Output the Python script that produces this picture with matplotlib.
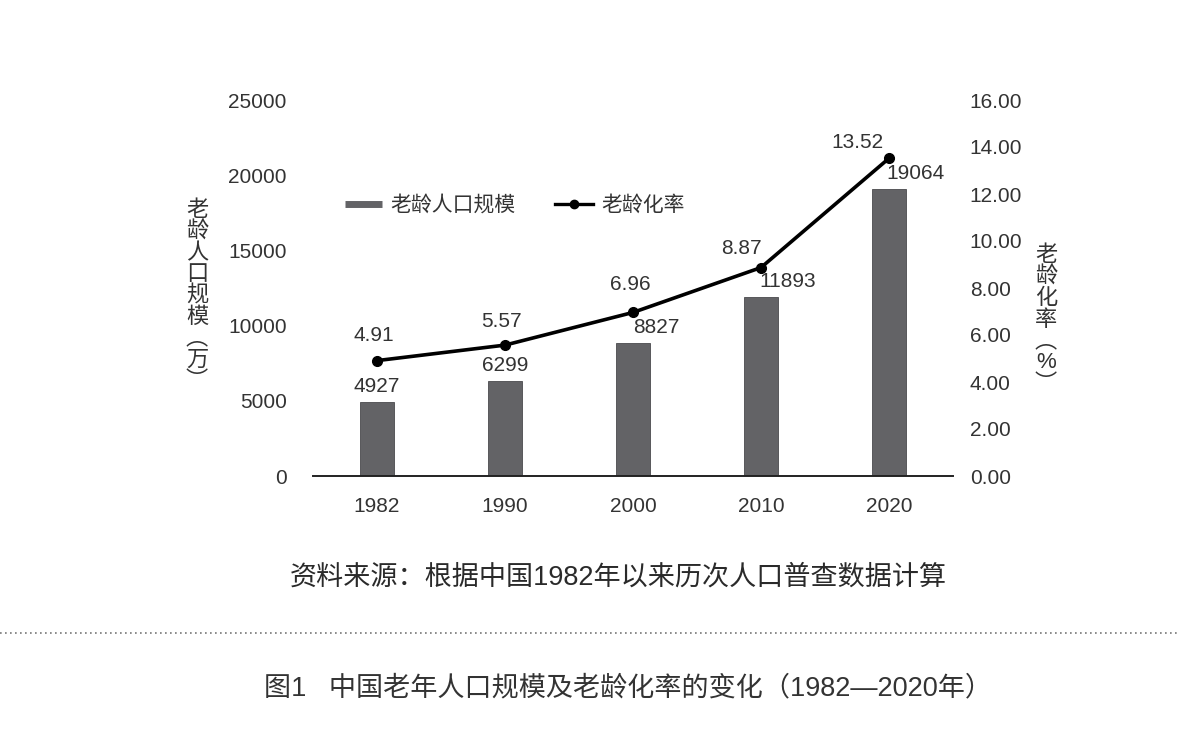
import matplotlib.pyplot as plt
from matplotlib.lines import Line2D

plt.rcParams['font.family'] = ['Liberation Sans', 'Noto Sans CJK SC', 'DejaVu Sans']

# data
years = ['1982', '1990', '2000', '2010', '2020']
elderly_pop = [4927, 6299, 8827, 11893, 19064]      # 万
aging_rate = [4.91, 5.57, 6.96, 8.87, 13.52]         # %
left_ticks = [0, 5000, 10000, 15000, 20000, 25000]
right_ticks = [0, 2, 4, 6, 8, 10, 12, 14, 16]

bar_name = '老龄人口规模'
line_name = '老龄化率'
left_label = '老龄人口规模︵万︶'
right_label = '老龄化率︵%︶'
source_note = '资料来源：根据中国1982年以来历次人口普查数据计算'
caption = '图1   中国老年人口规模及老龄化率的变化（1982—2020年）'

# label offsets in pixels (dx, dy)
bar_lbl_off = [(0, 6), (0, 6), (23, 6), (27, 6), (26, 6)]
line_lbl_off = [(-3, 16), (-4, 14), (-3, 18), (-20, 10), (-32, 6)]

TXT = '#333333'
BAR = '#636366'
FS = 15

fig = plt.figure(figsize=(11.78, 7.46), dpi=100)
ax = fig.add_axes([313 / 1178, 1 - 476 / 746, 640 / 1178, 376 / 746])
ax2 = ax.twinx()

x = list(range(len(years)))
ax.bar(x, elderly_pop, width=0.26, color=BAR, edgecolor='#4a4a4d', linewidth=0.6, zorder=2)
ax.set_xlim(-0.5, len(years) - 0.5)
ax.set_ylim(0, 25000)
ax.set_yticks(left_ticks)
ax.set_yticklabels([str(t) for t in left_ticks])
ax.set_xticks(x)
ax.set_xticklabels(years)
ax.tick_params(axis='y', length=0, pad=19, labelsize=FS, labelcolor=TXT)
ax.tick_params(axis='x', length=0, pad=15, labelsize=FS, labelcolor=TXT)

ax2.plot(x, aging_rate, color='black', lw=2.6, marker='o', ms=7, zorder=3)
ax2.set_ylim(0, 16)
ax2.set_yticks(right_ticks)
ax2.set_yticklabels([f'{t:.2f}' for t in right_ticks])
ax2.tick_params(axis='y', length=0, pad=12, labelsize=FS, labelcolor=TXT)

for a in (ax, ax2):
    for s in ('top', 'left', 'right'):
        a.spines[s].set_visible(False)
ax.spines['bottom'].set_color('#222222')
ax.spines['bottom'].set_linewidth(1.4)
ax2.spines['bottom'].set_visible(False)

for xi, v, (dx, dy) in zip(x, elderly_pop, bar_lbl_off):
    ax.annotate(str(v), (xi, v), xytext=(dx, dy), textcoords='offset pixels',
                ha='center', va='bottom', fontsize=FS, color=TXT)
for xi, v, (dx, dy) in zip(x, aging_rate, line_lbl_off):
    ax2.annotate(f'{v:.2f}', (xi, v), xytext=(dx, dy), textcoords='offset pixels',
                 ha='center', va='bottom', fontsize=FS, color=TXT)

handles = [Line2D([], [], color=BAR, lw=5, solid_capstyle='butt'),
           Line2D([], [], color='black', lw=2.4, marker='o', ms=6)]
fig.legend(handles, [bar_name, line_name], loc='center left',
           bbox_to_anchor=(326 / 1178, 1 - 205 / 746), ncol=2, frameon=False,
           fontsize=15, handlelength=1.8, handletextpad=0.4, columnspacing=1.9,
           labelcolor=TXT)

fig.text(197 / 1178, 1 - 296 / 746, '\n'.join(left_label), ha='center', va='center',
         fontsize=16, color=TXT, linespacing=1.02)
fig.text(1046 / 1178, 1 - 320 / 746, '\n'.join(right_label), ha='center', va='center',
         fontsize=16, color=TXT, linespacing=1.02)

fig.text(618 / 1178, 1 - 578 / 746, source_note, ha='center', va='center',
         fontsize=19.5, color='#2a2a2a', fontweight='light')
fig.add_artist(Line2D([0, 1], [1 - 633 / 746] * 2, transform=fig.transFigure,
                      color='#777777', lw=1.2, linestyle=(0, (1, 2))))
fig.text(628 / 1178, 1 - 688 / 746, caption, ha='center', va='center',
         fontsize=19.5, color=TXT)

fig.savefig('out.png', dpi=100, facecolor='white')
